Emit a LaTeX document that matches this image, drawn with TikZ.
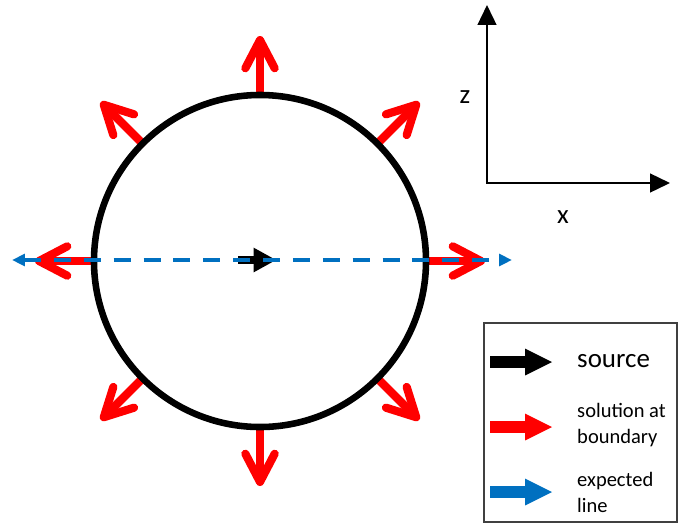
\documentclass[tikz,border=0pt]{standalone}
\usepackage{fontspec}
\setsansfont{Carlito}
\usepackage{tikz}
\usetikzlibrary{arrows.meta, calc}
\definecolor{solRed}{HTML}{FF0000}
\definecolor{lineBlue}{HTML}{0070C0}
\definecolor{boxGray}{HTML}{404040}

\begin{document}
\begin{tikzpicture}[x=0.03cm, y=0.03cm,
    ring/.style={circle, draw=black, line width=5.6pt, minimum size=9.96cm, inner sep=0pt},
    solarr/.style={-{Straight Barb[length=24pt, width=25pt, round]}, line width=7pt, solRed},
    srcarr/.style={-{Triangle[length=19pt, width=21pt, line width=0pt]}, line width=6pt, black},
    exparr/.style={{Triangle[length=11pt, width=10pt]}-{Triangle[length=11pt, width=10pt]},
      line width=3.4pt, lineBlue, dash pattern=on 14.5pt off 11pt},
    axarr/.style={{Triangle[length=17pt, width=16pt]}-{Triangle[length=17pt, width=16pt]},
      line width=1.7pt, black},
    legarr/.style={-{Triangle[length=23pt, width=23pt, line width=0pt]}, line width=10pt},
    legbox/.style={rectangle, draw=boxGray, line width=1.7pt, minimum width=5.79cm, minimum height=5.97cm},
    lbl/.style={font=\sffamily\fontsize{23}{27}\selectfont, inner sep=0pt},
    leglbl/.style={font=\sffamily\fontsize{17.5}{22}\selectfont, inner sep=0pt, anchor=base west, align=left}
  ]
  \useasboundingbox (0,0) rectangle (679,-524);
  \coordinate (o) at (260,-261);
  \foreach \a in {0,45,...,315}
    \draw[solarr] ($(o)+(\a:163)$) -- ($(o)+(\a:225)$);
  \node[ring] (ring) at (o) {};
  \coordinate (srcA) at (238,-260);
  \coordinate (srcB) at (276,-260);
  \draw[srcarr] (srcA) -- (srcB);
  \coordinate (expL) at (12,-260);
  \coordinate (expR) at (512,-260);
  \draw[exparr] (expL) -- (expR);

  \coordinate (ax0) at (487,-183);
  \coordinate (axz) at (487,-5);
  \coordinate (axx) at (670,-183);
  \draw[axarr] (axz) -- (ax0) -- (axx);
  \node[lbl, anchor=base] (zlbl) at (465,-103) {z};
  \node[lbl, anchor=base] (xlbl) at (563,-223) {x};

  \node[legbox] (legend) at (580.5,-422.5) {};
  \draw[legarr, black] (490,-362) -- (552,-362);
  \draw[legarr, solRed] (490,-427) -- (552,-427);
  \draw[legarr, lineBlue] (490,-492) -- (552,-492);
  \node[lbl, anchor=base west] (srcLbl) at (577,-367) {source};
  \node[leglbl] (solLbl) at (577,-443) {solution at\\boundary};
  \node[leglbl] (expLbl) at (577,-512) {expected\\line};
\end{tikzpicture}
\end{document}
